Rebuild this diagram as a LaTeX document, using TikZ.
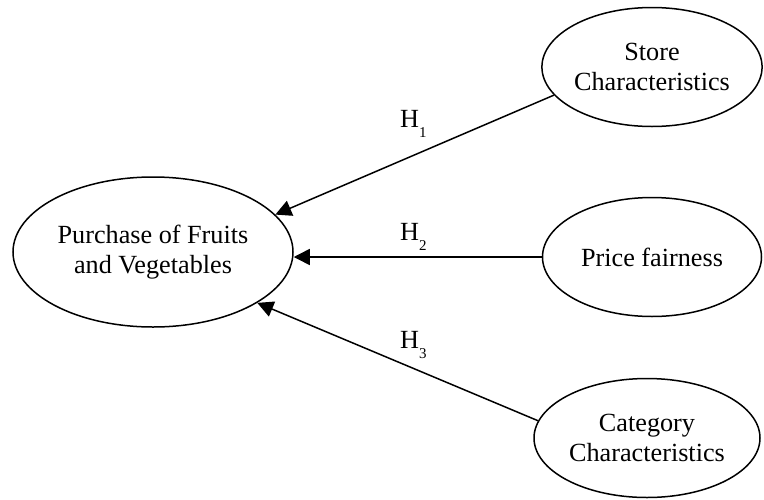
\documentclass[tikz,border=0pt]{standalone}
\usepackage{fontspec}
\setmainfont{Liberation Serif}
\usetikzlibrary{shapes.geometric,arrows.meta}
\newcommand{\hsub}[1]{\raisebox{-10pt}{\fontsize{15}{15}\selectfont #1}}
\begin{document}
\begin{tikzpicture}[x=1pt,y=-1pt,
  every node/.style={font=\fontsize{26.2}{29.5}\selectfont},
  oval/.style={ellipse,draw,line width=1.5pt,inner sep=0pt,align=center},
  conn/.style={line width=1.5pt,-{Triangle[length=16pt,width=16pt]}},
  hyp/.style={anchor=base west,inner sep=0pt}]
\useasboundingbox (0,0) rectangle (764,499);
\node[oval,minimum width=280pt,minimum height=150pt] (purch) at (153,252) {Purchase of Fruits\\and Vegetables};
\node[oval,minimum width=219pt,minimum height=119pt] (store) at (652,67) {Store\\Characteristics};
\node[oval,minimum width=219pt,minimum height=119pt] (price) at (652,257) {Price fairness};
\node[oval,minimum width=226pt,minimum height=119pt] (categ) at (647,438) {Category\\Characteristics};
\draw[conn] (store.196) -- (purch.17);
\draw[conn] (price.west) -- (price.west -| purch.east);
\draw[conn] (categ.171) -- (purch.334);
\node[hyp] (h1) at (400,127) {H\hsub{1}};
\node[hyp] (h2) at (400,240) {H\hsub{2}};
\node[hyp] (h3) at (400,348) {H\hsub{3}};
\end{tikzpicture}
\end{document}
